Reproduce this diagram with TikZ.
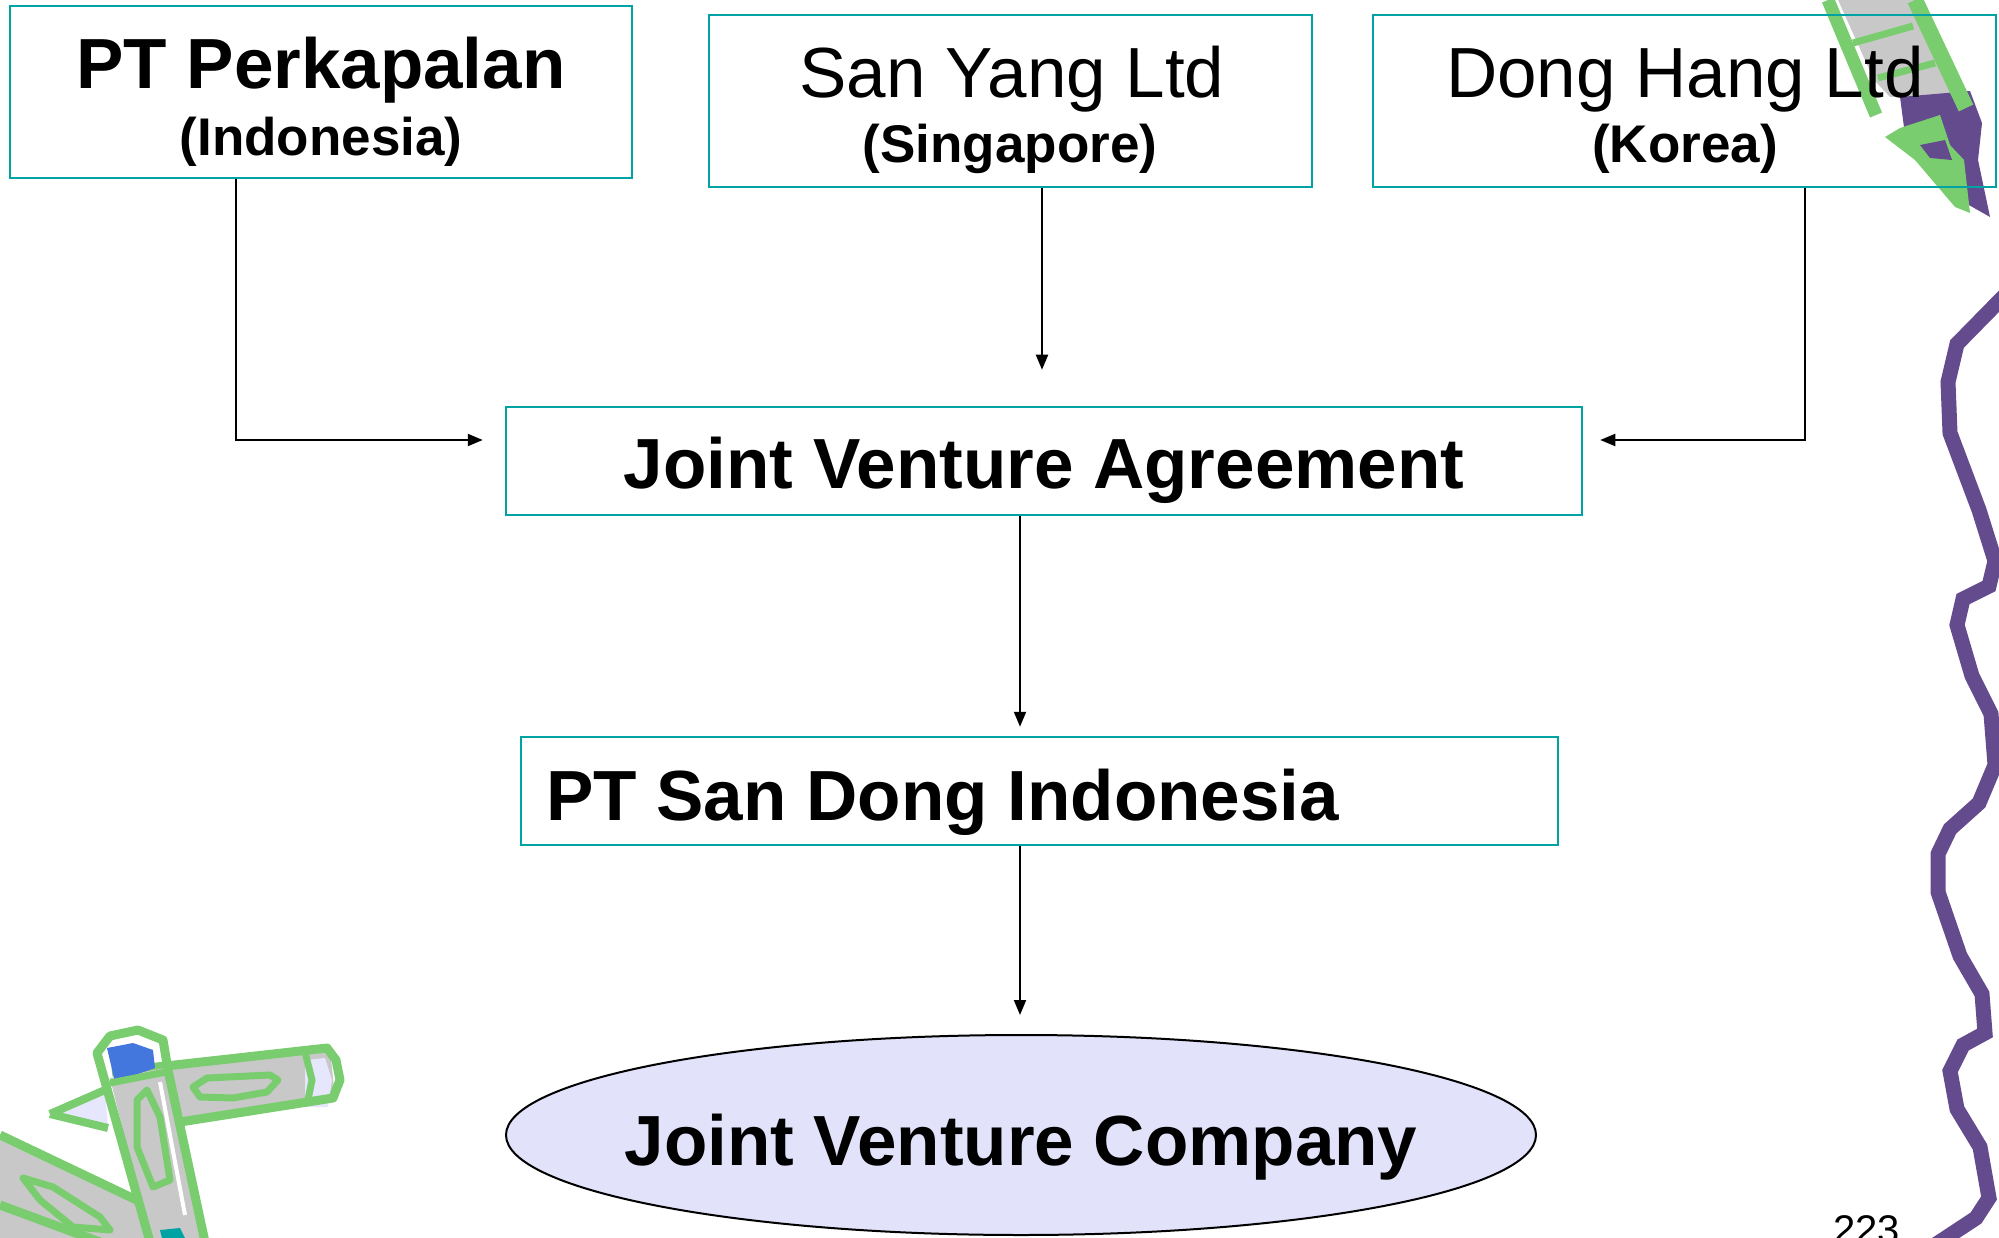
\documentclass[tikz,border=0pt]{standalone}
\usepackage{fontspec}
\setmainfont{Liberation Sans}
\usetikzlibrary{arrows.meta,shapes.geometric}

\definecolor{boxteal}{RGB}{0,163,163}
\definecolor{jvlilac}{RGB}{226,226,250}
\definecolor{wavepurple}{RGB}{100,75,141}
\definecolor{pengreen}{RGB}{122,205,110}
\definecolor{pengrey}{RGB}{200,200,200}
\definecolor{capblue}{RGB}{68,119,221}
\definecolor{tiplilac}{RGB}{230,230,252}

\begin{document}
\begin{tikzpicture}[x=1pt, y=-1pt, >={Triangle[length=15pt,width=12pt]},
    party/.style={draw=boxteal, line width=2.5pt, inner sep=0pt, minimum height=172pt},
    stage/.style={draw=boxteal, line width=2.5pt, inner sep=0pt, minimum height=108pt},
    flow/.style={->, line width=2pt},
    bigbold/.style={font=\fontsize{71}{71}\selectfont\bfseries, anchor=base, inner sep=0pt},
    bigplain/.style={font=\fontsize{71}{71}\selectfont, anchor=base, inner sep=0pt},
    country/.style={font=\fontsize{53}{53}\selectfont\bfseries, anchor=base, inner sep=0pt}]
    \useasboundingbox (0,0) rectangle (1999,1238);
    \clip (0,0) rectangle (1999,1238);

    % Wavy ribbon down the right edge
    \draw[wavepurple, line width=15pt, line join=miter]
        (2010,290) -- (1957,344) -- (1948,382) -- (1950,433) -- (1979,510) -- (1995,561)
        -- (1989,586) -- (1963,599) -- (1957,625) -- (1972,676) -- (1991,714) -- (1995,765)
        -- (1979,803) -- (1950,829) -- (1938,854) -- (1938,892) -- (1960,956) -- (1982,994)
        -- (1985,1033) -- (1963,1045) -- (1950,1071) -- (1957,1109) -- (1980,1147)
        -- (1989,1198) -- (1976,1218) -- (1935,1245);

    % Pencil at the top right
    \fill[pengrey] (1838,0) -- (1920,0) -- (1967,93) -- (1890,97) -- (1874,80) -- cycle;
    \fill[wavepurple] (1900,97) -- (1970,91) -- (1982,123) -- (1978,160) -- (1990,217)
        -- (1960,200) -- (1940,170) -- (1905,135) -- cycle;
    \draw[pengreen, line width=13pt] (1828,0) -- (1876,115);
    \draw[pengreen, line width=16pt] (1915,0) -- (1966,108);
    \draw[pengreen, line width=7pt] (1853,43) -- (1913,26);
    \draw[pengreen, line width=7pt] (1878,78) -- (1935,63);
    \fill[pengreen] (1885,137) -- (1900,128) -- (1940,115) -- (1950,145) -- (1964,160)
        -- (1970,213) -- (1955,207) -- (1915,160) -- cycle;
    \fill[wavepurple] (1920,145) -- (1945,140) -- (1952,160) -- (1930,158) -- cycle;

    % Pencil lying across the bottom left corner
    \fill[pengrey] (0,1140) -- (165,1218) -- (180,1238) -- (0,1238) -- cycle;
    \draw[pengreen, line width=9pt] (0,1135) -- (168,1215);
    \draw[pengreen, line width=9pt] (0,1205) -- (100,1242);
    \draw[pengreen, line width=7pt, line join=round]
        (23,1178) -- (53,1187) -- (100,1217) -- (110,1230) -- (73,1227) -- (40,1200) -- cycle;

    % Pencil lying flat
    \fill[pengrey] (112,1075) -- (330,1048) -- (335,1098) -- (180,1125) -- cycle;
    \fill[tiplilac] (305,1060) -- (325,1058) -- (332,1080) -- (328,1107) -- (305,1107) -- cycle;
    \draw[pengreen, line width=9pt, line join=round]
        (112,1072) -- (327,1048) -- (336,1060) -- (340,1080) -- (333,1098) -- (180,1122);
    \draw[pengreen, line width=7pt] (305,1052) -- (312,1080) -- (308,1100);
    \fill[tiplilac] (55,1113) -- (105,1093) -- (108,1125) -- cycle;
    \draw[pengreen, line width=8pt] (50,1114) -- (105,1090) (50,1114) -- (108,1128);
    \draw[pengreen, line width=7pt, line join=round]
        (193,1087) -- (207,1078) -- (270,1075) -- (278,1080) -- (267,1092) -- (233,1098)
        -- (200,1097) -- cycle;

    % Pencil standing up
    \fill[pengrey] (110,1078) -- (165,1068) -- (200,1238) -- (150,1238) -- cycle;
    \fill[capblue] (107,1048) -- (133,1043) -- (153,1050) -- (155,1068) -- (115,1082) -- cycle;
    \draw[white, line width=4pt] (160,1082) -- (185,1215);
    \draw[pengreen, line width=9pt, line join=round]
        (150,1242) -- (97,1053) -- (110,1036) -- (138,1030) -- (163,1040) -- (168,1070) -- (205,1242);
    \draw[pengreen, line width=7pt] (110,1083) -- (166,1072);
    \draw[pengreen, line width=7pt, line join=round]
        (137,1100) -- (147,1090) -- (160,1117) -- (170,1180) -- (153,1187) -- (137,1147) -- cycle;
    \fill[boxteal] (160,1230) -- (180,1228) -- (185,1238) -- (162,1238) -- cycle;

    % Partners
    \node[party, minimum width=622pt] (perk) at (321,92) {};
    \node[party, minimum width=603pt] (sanyang) at (1010.5,101) {};
    \node[party, minimum width=623pt] (dong) at (1684.5,101) {};
    \node[bigbold] (perkname) at (321,89) {PT Perkapalan};
    \node[country] (perkland) at (321,156) {(Indonesia)};
    \node[bigplain] (sanyangname) at (1012,98) {San Yang Ltd};
    \node[country] (sanyangland) at (1010,163) {(Singapore)};
    \node[bigplain] (dongname) at (1685,98) {Dong Hang Ltd};
    \node[country] (dongland) at (1685,163) {(Korea)};

    % Agreement, company, result
    \node[stage, minimum width=1076pt] (jva) at (1044,461) {};
    \node[bigbold] (jvaname) at (1044,488) {Joint Venture Agreement};
    \node[stage, minimum width=1037pt] (sandong) at (1039.5,791) {};
    \node[bigbold, anchor=base west] (sandongname) at (546,820) {PT San Dong Indonesia};
    \node[ellipse, draw, line width=2pt, fill=jvlilac, inner sep=0pt,
        minimum width=1030pt, minimum height=200pt] (jvc) at (1021,1135) {};
    \node[bigbold] (jvcname) at (1021,1165) {Joint Venture Company};

    % Arrows
    \draw[flow] ([xshift=-85pt]perk.south) |- ([xshift=-22pt,yshift=21pt]jva.west);
    \draw[flow] ([xshift=31.5pt]sanyang.south) -- ([xshift=-2pt,yshift=36pt]jva.north);
    \draw[flow] ([xshift=120.5pt]dong.south) |- ([xshift=17pt,yshift=21pt]jva.east);
    \draw[flow] ([xshift=-24pt]jva.south) -- ([xshift=-19.5pt,yshift=9pt]sandong.north);
    \draw[flow] ([xshift=-19.5pt]sandong.south) -- ([xshift=-1pt,yshift=19pt]jvc.north);

    % Page number
    \node[anchor=base west, inner sep=0pt, font=\fontsize{40}{40}\selectfont] (pagenum)
        at (1833,1243) {223};
\end{tikzpicture}
\end{document}
